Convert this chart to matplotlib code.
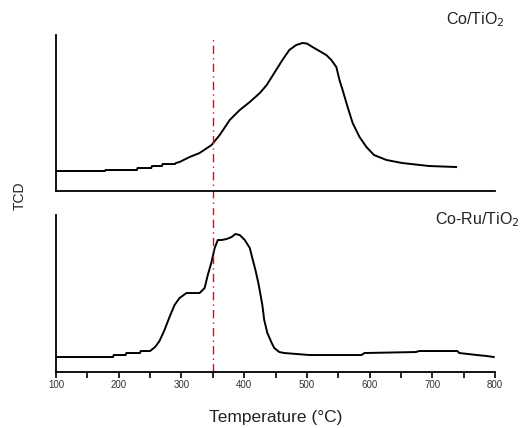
import matplotlib
matplotlib.use("Agg")
import matplotlib.pyplot as plt
from matplotlib.ticker import MultipleLocator

# Co/TiO2 TPR trace (arbitrary TCD units)
co_temp = [100, 178, 179, 229, 230, 252, 253, 269, 270, 290, 291, 297, 313, 329, 348,
           361, 377, 393, 409, 425, 436, 448, 461, 472, 483, 493, 500, 509, 531, 539,
           547, 552, 557, 565, 573, 584, 595, 607, 627, 652, 695, 738]
co_tcd = [20, 20, 21, 21, 23, 23, 25, 25, 27, 27, 28, 29, 34, 38, 46,
          56, 71, 81, 89, 98, 106, 118, 131, 141, 146, 148, 147.5, 144, 136, 131,
          124, 111, 101, 84, 68, 54, 44, 36, 31, 28, 25, 24]

# Co-Ru/TiO2 TPR trace
coru_temp = [100, 191, 192, 211, 212, 234, 235, 250, 258, 265, 273, 281, 289, 297, 308,
             318, 329, 337, 342, 348, 353, 358, 364, 372, 380, 386, 393, 401, 409, 413,
             418, 423, 429, 432, 437, 444, 448, 456, 464, 504, 587, 592, 674, 679, 740,
             743, 771, 787, 798]
coru_tcd = [15, 15, 17, 17, 19, 19, 21, 21, 25, 31, 42, 55, 67, 74, 79,
            79, 79, 84, 97, 110, 124, 132, 132, 133, 135, 138, 137, 132, 124, 114,
            102, 88, 67, 52, 39, 29, 24, 20, 19, 17, 17, 19, 20, 21, 21,
            19, 17, 16, 15]

MARK_T = 350
XTICKS = [100, 200, 300, 400, 500, 600, 700, 800]
RED_DASH = (0, (6, 3, 1, 3))

plt.rcParams.update({
    "font.family": ["Liberation Sans", "DejaVu Sans"],
})

fig = plt.figure(figsize=(5.21, 4.28), dpi=100)
ax_top = fig.add_axes([0.1075, 0.5537, 0.8426, 0.3645])
ax_bot = fig.add_axes([0.1075, 0.1308, 0.8426, 0.3668])

for ax in (ax_top, ax_bot):
    ax.set_xlim(100, 800)
    for side in ("top", "right"):
        ax.spines[side].set_visible(False)
    for side in ("left", "bottom"):
        ax.spines[side].set_linewidth(1.3)
    ax.set_yticks([])

ax_top.plot(co_temp, co_tcd, color="black", lw=1.4)
ax_top.set_ylim(0, 156)
ax_top.set_xticks([])
ax_top.axvline(MARK_T, ymin=-0.16, ymax=0.995, color="red", lw=1.0,
               ls=RED_DASH, clip_on=False)
ax_top.text(1.023, 1.096, "Co/TiO$_2$", transform=ax_top.transAxes,
            ha="right", va="center", fontsize=11.5, color="#222222")

ax_bot.plot(coru_temp, coru_tcd, color="black", lw=1.4)
ax_bot.set_ylim(0, 157)
ax_bot.axvline(MARK_T, color="red", lw=1.0, ls=RED_DASH)
ax_bot.set_xticks(XTICKS)
ax_bot.set_xticklabels([str(t) for t in XTICKS])
ax_bot.xaxis.set_minor_locator(MultipleLocator(50))
ax_bot.tick_params(axis="x", which="both", direction="out", length=4, width=1.2,
                   labelsize=7, pad=2, labelcolor="#333333")
ax_bot.text(1.057, 0.968, "Co-Ru/TiO$_2$", transform=ax_bot.transAxes,
            ha="right", va="center", fontsize=11.5, color="#222222")
ax_bot.set_xlabel("Temperature (°C)", fontsize=12.5, labelpad=14, color="#222222")

fig.text(0.037, 0.542, "TCD", rotation=90, ha="center", va="center",
         fontsize=10, color="#222222")

fig.savefig("out.png", dpi=100)
